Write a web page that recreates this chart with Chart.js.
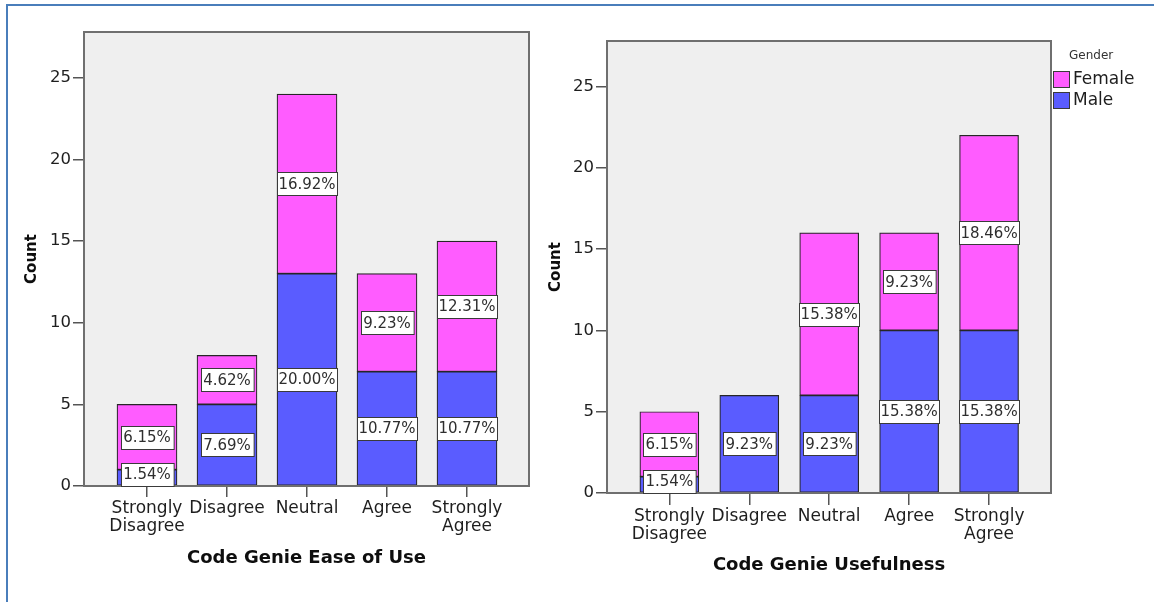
<!DOCTYPE html>
<html>
<head>
<meta charset="utf-8">
<script src="https://cdn.jsdelivr.net/npm/chart.js@4/dist/chart.umd.min.js"></script>
<style>
  html, body { margin: 0; padding: 0; background: #fff; }
  body { width: 1154px; height: 602px; position: relative; overflow: hidden; }
  #frame { position: absolute; left: 6px; top: 4px; right: -10px; bottom: -10px;
           border-top: 2px solid #4a7ebb; border-left: 2px solid #4a7ebb; }
  canvas { position: absolute; top: 0; }
  #easeChart { left: 0; }
  #usefulChart { left: 540px; }
</style>
</head>
<body>
<div id="frame"></div>
<canvas id="easeChart" width="560" height="602"></canvas>
<canvas id="usefulChart" width="614" height="602"></canvas>
<script>
// Response categories (multi-line where the label wraps)
const categories = [['Strongly', 'Disagree'], 'Disagree', 'Neutral', 'Agree', ['Strongly', 'Agree']];

// Counts per gender, Code Genie Ease of Use
const easeMale   = [1, 5, 13, 7, 7];
const easeFemale = [4, 3, 11, 6, 8];

// Counts per gender, Code Genie Usefulness
const usefulMale   = [1, 6, 6, 10, 10];
const usefulFemale = [4, 0, 10, 6, 12];

const countTicks = [0, 5, 10, 15, 20, 25];
const genderLabels = ['Female', 'Male'];

const FONT = "'DejaVu Sans', sans-serif";
const FEMALE_COLOR = '#ff5cff';
const MALE_COLOR = '#5a5cff';

// Grey plot panel, its frame, and the white percentage boxes on each segment
const panelPlugin = {
  id: 'panel',
  beforeDraw(chart) {
    const { ctx, chartArea: a } = chart;
    ctx.save();
    ctx.fillStyle = '#efefef';
    ctx.fillRect(a.left, a.top, a.right - a.left, a.bottom - a.top);
    ctx.restore();
  },
  afterDatasetsDraw(chart) {
    const { ctx, chartArea: a } = chart;
    ctx.save();
    ctx.strokeStyle = '#6f6f6f';
    ctx.lineWidth = 2;
    ctx.strokeRect(a.left, a.top, a.right - a.left, a.bottom - a.top);

    let total = 0;
    chart.data.datasets.forEach(ds => ds.data.forEach(p => { total += p.y; }));

    ctx.font = '15px ' + FONT;
    ctx.textAlign = 'center';
    ctx.textBaseline = 'middle';
    chart.data.datasets.forEach((ds, di) => {
      const meta = chart.getDatasetMeta(di);
      meta.data.forEach((el, i) => {
        const v = ds.data[i].y;
        if (!v) return;
        const text = (v / total * 100).toFixed(2) + '%';
        const w = Math.min(ctx.measureText(text).width + 5, 60);
        const h = 23;
        let cy = (el.y + el.base) / 2;
        if (cy + h / 2 > a.bottom) cy = a.bottom - h / 2;
        const x0 = Math.round(el.x - w / 2) + 0.5;
        const y0 = Math.round(cy - h / 2) + 0.5;
        ctx.fillStyle = '#ffffff';
        ctx.fillRect(x0, y0, w, h);
        ctx.strokeStyle = '#3a3a3a';
        ctx.lineWidth = 1;
        ctx.strokeRect(x0, y0, w, h);
        ctx.fillStyle = '#2e2e2e';
        ctx.fillText(text, el.x, cy + 1);
      });
    });
    ctx.restore();
  }
};

// Gender key to the right of the usefulness panel
const genderKey = {
  id: 'genderKey',
  afterDraw(chart, args, opts) {
    if (!opts.show) return;
    const { ctx, chartArea: a } = chart;
    const x = a.right + 2;
    ctx.save();
    ctx.textBaseline = 'middle';
    ctx.textAlign = 'left';
    ctx.fillStyle = '#333';
    ctx.font = '12px ' + FONT;
    ctx.fillText('Gender', x + 16, 56);
    const colors = [FEMALE_COLOR, MALE_COLOR];
    genderLabels.forEach((lab, i) => {
      const top = 71 + i * 21;
      ctx.fillStyle = colors[i];
      ctx.fillRect(x + 0.5, top + 0.5, 16, 16);
      ctx.strokeStyle = '#3a3a3a';
      ctx.lineWidth = 1;
      ctx.strokeRect(x + 0.5, top + 0.5, 16, 16);
      ctx.fillStyle = '#1e1e1e';
      ctx.font = '17px ' + FONT;
      ctx.fillText(lab, x + 20, top + 9);
    });
    ctx.restore();
  }
};

function points(values) {
  return values.map((v, i) => ({ x: i, y: v }));
}

function makeChart(canvasId, male, female, title, geo) {
  return new Chart(document.getElementById(canvasId), {
    type: 'bar',
    data: {
      datasets: [
        { label: 'Male', data: points(male), backgroundColor: MALE_COLOR,
          borderColor: '#262626', borderWidth: 1.2, borderSkipped: false,
          barThickness: geo.bar, stack: 'g' },
        { label: 'Female', data: points(female), backgroundColor: FEMALE_COLOR,
          borderColor: '#262626', borderWidth: 1.2, borderSkipped: false,
          barThickness: geo.bar, stack: 'g' }
      ]
    },
    options: {
      responsive: false,
      animation: false,
      layout: { padding: { left: 0, top: geo.top, right: geo.right, bottom: 0 } },
      plugins: {
        legend: { display: false },
        tooltip: { enabled: false },
        genderKey: { show: geo.key }
      },
      scales: {
        x: {
          type: 'linear',
          offset: false,
          min: geo.xmin,
          max: geo.xmax,
          afterBuildTicks: s => { s.ticks = categories.map((_, i) => ({ value: i })); },
          afterFit: s => { s.height = geo.xh; },
          ticks: {
            callback: v => categories[v],
            font: { family: FONT, size: 17, lineHeight: 1.1 },
            color: '#1e1e1e',
            padding: 2,
            maxRotation: 0,
            autoSkip: false
          },
          grid: { offset: false, drawOnChartArea: false, drawTicks: true, tickLength: geo.xtick, color: '#555', lineWidth: 1.5 },
          border: { display: false },
          title: {
            display: true, text: title, color: '#0e0e0e',
            font: { family: FONT, size: 18, weight: 'bold' },
            padding: { top: 0, bottom: geo.titlePad }
          }
        },
        y: {
          min: 0,
          max: 27.8,
          stacked: true,
          afterBuildTicks: s => { s.ticks = countTicks.map(v => ({ value: v })); },
          afterFit: s => { s.width = geo.yw; },
          ticks: { font: { family: FONT, size: 16.5 }, color: '#1e1e1e', padding: 2 },
          grid: { drawOnChartArea: false, drawTicks: true, tickLength: 11, color: '#555', lineWidth: 1.5 },
          border: { display: false },
          title: {
            display: true, text: 'Count', color: '#0e0e0e',
            font: { family: FONT, size: 15, weight: 'bold' },
            padding: { top: geo.countPad, bottom: 0 }
          }
        }
      }
    },
    plugins: [panelPlugin, genderKey]
  });
}

makeChart('easeChart', easeMale, easeFemale, 'Code Genie Ease of Use',
  { top: 32, right: 31, yw: 84, xh: 116, xmin: -0.7875, xmax: 4.775, bar: 60,
    xtick: 11, titlePad: 33, countPad: 23, key: false });

makeChart('usefulChart', usefulMale, usefulFemale, 'Code Genie Usefulness',
  { top: 41, right: 103, yw: 67, xh: 109, xmin: -0.78, xmax: 4.775, bar: 59,
    xtick: 12, titlePad: 26, countPad: 7, key: true });
</script>
</body>
</html>
